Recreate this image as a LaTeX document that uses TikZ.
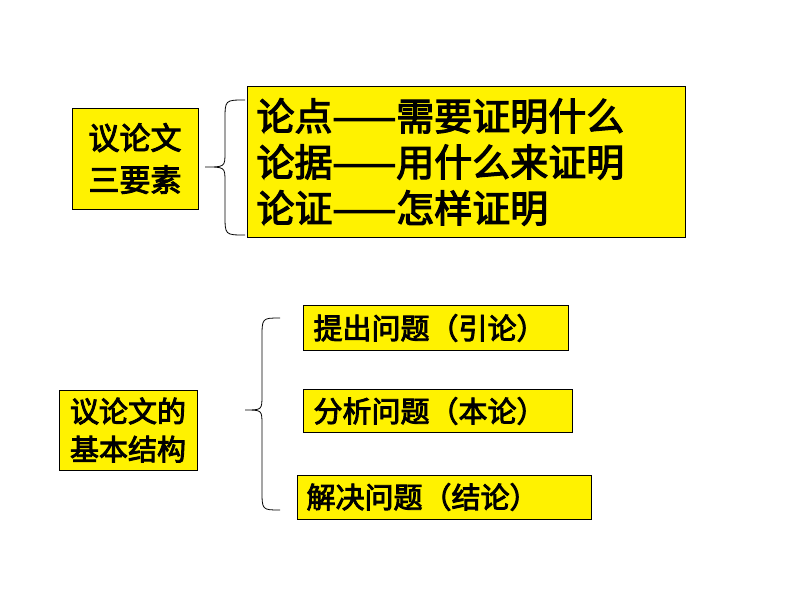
\documentclass[tikz,border=0pt]{standalone}
\usepackage{fontspec}
\newfontfamily\cjk{Noto Sans CJK SC}[FakeBold=3]
\begin{document}
\begin{tikzpicture}[x=1pt,y=-1pt,
  ybox/.style={draw=black,fill=yellow,line width=0.8pt,inner sep=0pt},
  txt/.style={font=\cjk,anchor=west,align=left},
  brace/.style={draw=black,line width=0.8pt}]
\useasboundingbox (0,0) rectangle (794,596);
\fill[white] (0,0) rectangle (794,596);
% top section
\draw[ybox] (72,108) rectangle (198,209);
\node[font=\cjk\fontsize{31}{42}\selectfont,align=center] (t1) at (135,158.5) {议论文\\三要素};
\draw[ybox] (247,86) rectangle (685,237);
\node[txt,font=\cjk\fontsize{38}{46}\selectfont] (t2) at (253,162) {论点——需要证明什么\\论据——用什么来证明\\论证——怎样证明};
\draw[brace] (245,100) .. controls (225,100) .. (225,120) -- (225,152) .. controls (225,167) .. (205,167) .. controls (225,167) .. (225,182) -- (225,215) .. controls (225,235) .. (245,235);
% bottom section
\draw[ybox] (59,390) rectangle (197,470);
\node[font=\cjk\fontsize{29}{38}\selectfont,align=center] (t3) at (128,430) {议论文的\\基本结构};
\draw[brace] (280,318) .. controls (262,318) .. (262,338) -- (262,395) .. controls (262,410) .. (245,410) .. controls (262,410) .. (262,425) -- (262,490) .. controls (262,510) .. (280,510);
\draw[ybox] (303,305) rectangle (568,350);
\node[txt,font=\cjk\fontsize{29}{32}\selectfont] (a) at (310,328) {提出问题（引论）};
\draw[ybox] (303,389) rectangle (572,432);
\node[txt,font=\cjk\fontsize{29}{32}\selectfont] (b) at (310,411) {分析问题（本论）};
\draw[ybox] (297,475) rectangle (591,519);
\node[txt,font=\cjk\fontsize{29}{32}\selectfont] (c) at (303,497) {解决问题（结论）};
\end{tikzpicture}
\end{document}
